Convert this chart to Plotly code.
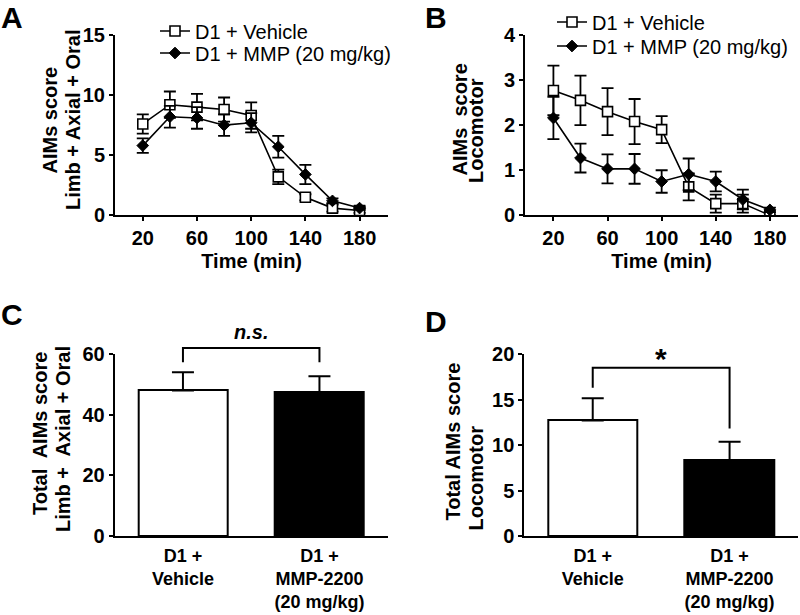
import plotly.graph_objects as go

# ---------------- data ----------------
time_min = [20, 40, 60, 80, 100, 120, 140, 160, 180]
time_ticks = [20, 60, 100, 140, 180]

a_vehicle = [7.6, 9.2, 9.0, 8.8, 8.3, 3.2, 1.5, 0.6, 0.4]
a_vehicle_err = [0.8, 1.1, 1.1, 1.0, 1.1, 0.6, 0.25, 0.3, 0.2]
a_mmp = [5.8, 8.2, 8.1, 7.5, 7.7, 5.7, 3.4, 1.2, 0.6]
a_mmp_err = [0.6, 0.9, 0.9, 0.9, 0.8, 0.9, 0.8, 0.2, 0.15]

b_vehicle = [2.77, 2.55, 2.30, 2.08, 1.90, 0.63, 0.26, 0.26, 0.0]
b_vehicle_err = [0.55, 0.55, 0.52, 0.5, 0.3, 0.3, 0.2, 0.2, 0.0]
b_mmp = [2.16, 1.27, 1.03, 1.03, 0.75, 0.91, 0.75, 0.35, 0.12]
b_mmp_err = [0.47, 0.32, 0.32, 0.33, 0.25, 0.35, 0.22, 0.22, 0.05]

bar_groups = ["D1 +<br>Vehicle", "D1 +<br>MMP-2200<br>(20 mg/kg)"]
c_totals = [48.0, 47.5]
c_err = [6.0, 5.2]
d_totals = [12.7, 8.35]
d_err = [2.45, 2.0]

legend_names = ["D1 + Vehicle", "D1 + MMP (20 mg/kg)"]

FONT = "Liberation Sans, Arial, sans-serif"
W, H = 800, 615

def px_x(a, b):
    return [a / W, b / W]

def px_y(top, bottom):
    return [1 - bottom / H, 1 - top / H]

fig = go.Figure()

def line_traces(yv, ev, ym, em, xa, ya, leg_v, leg_m):
    fig.add_trace(go.Scatter(
        x=time_min, y=yv, name=legend_names[0], mode="lines+markers",
        line=dict(color="black", width=1.6),
        marker=dict(symbol="square", size=10, color="white", line=dict(color="black", width=1.6)),
        error_y=dict(type="data", array=ev, color="black", thickness=1.8, width=6),
        xaxis=xa, yaxis=ya, legend=leg_v))
    fig.add_trace(go.Scatter(
        x=time_min, y=ym, name=legend_names[1], mode="lines+markers",
        line=dict(color="black", width=1.6),
        marker=dict(symbol="diamond", size=9, color="black", line=dict(color="black", width=1)),
        error_y=dict(type="data", array=em, color="black", thickness=1.8, width=6),
        xaxis=xa, yaxis=ya, legend=leg_m))

line_traces(a_vehicle, a_vehicle_err, a_mmp, a_mmp_err, "x", "y", "legend", "legend3")
line_traces(b_vehicle, b_vehicle_err, b_mmp, b_mmp_err, "x2", "y2", "legend2", "legend4")

def bar_trace(vals, errs, xa, ya):
    fig.add_trace(go.Bar(
        x=[0, 1], y=vals, width=0.655,
        marker=dict(color=["white", "black"], line=dict(color="black", width=2)),
        error_y=dict(type="data", array=errs, arrayminus=[0, 0], color="black", thickness=2, width=11),
        showlegend=False, xaxis=xa, yaxis=ya))

bar_trace(c_totals, c_err, "x3", "y3")
bar_trace(d_totals, d_err, "x4", "y4")

tick_font = dict(family=FONT, size=20, color="black", weight="bold")
title_font = dict(family=FONT, size=20, color="black", weight="bold")
cat_font = dict(family=FONT, size=18, color="black", weight="bold")
leg_font = dict(family=FONT, size=20, color="black")

axis_common = dict(showline=True, linecolor="black", linewidth=2, showgrid=False,
                   zeroline=False, ticks="outside", ticklen=4, tickwidth=2,
                   tickcolor="black", tickfont=tick_font, mirror=False, automargin=False)

line_x = dict(axis_common, range=[-0.5, 201.2], tickvals=time_ticks,
              title=dict(text="Time (min)", font=title_font, standoff=6))

bar_dom = px_y(354, 536)

def leg(xpx, ypx):
    return dict(x=xpx / W, y=1 - ypx / H, xanchor="left", yanchor="middle",
                font=leg_font, bgcolor="rgba(0,0,0,0)", itemclick=False,
                itemdoubleclick=False)

fig.update_layout(
    width=W, height=H, paper_bgcolor="white", plot_bgcolor="white",
    margin=dict(l=0, r=0, t=0, b=0, autoexpand=False),
    xaxis=dict(line_x, domain=px_x(115, 388.3), anchor="y"),
    yaxis=dict(axis_common, domain=px_y(35, 215.3), anchor="x", range=[0, 15],
               tickvals=[0, 5, 10, 15]),
    xaxis2=dict(line_x, domain=px_x(525, 798.3), anchor="y2", range=[-1, 201]),
    yaxis2=dict(axis_common, domain=px_y(35, 215.3), anchor="x2", range=[0, 4],
                tickvals=[0, 1, 2, 3, 4]),
    xaxis3=dict(axis_common, domain=px_x(114.7, 387.7), anchor="y3", range=[-0.5, 1.5],
                tickvals=[0, 1], ticktext=bar_groups, ticks="", tickfont=cat_font,
                ticklabelstandoff=2),
    yaxis3=dict(axis_common, domain=bar_dom, anchor="x3", range=[0, 60],
                tickvals=[0, 20, 40, 60]),
    xaxis4=dict(axis_common, domain=px_x(524.3, 798), anchor="y4", range=[-0.5, 1.5],
                tickvals=[0, 1], ticktext=bar_groups, ticks="", tickfont=cat_font,
                ticklabelstandoff=2),
    yaxis4=dict(axis_common, domain=bar_dom, anchor="x4", range=[0, 20],
                tickvals=[0, 5, 10, 15, 20]),
    legend=leg(155, 31),
    legend3=leg(155, 53),
    legend2=leg(552, 22),
    legend4=leg(552, 46),
    bargap=0,
)

# significance brackets (bar chart C bracket goes above the axis range -> paper y)
def c_paper(v):
    return bar_dom[0] + v / 60 * (bar_dom[1] - bar_dom[0])

fig.add_shape(type="path",
              path=f"M 0,{c_paper(57.3)} L 0,{c_paper(62)} L 1,{c_paper(62)} L 1,{c_paper(57.3)}",
              xref="x3", yref="paper", line=dict(color="black", width=2))
fig.add_shape(type="path", path="M 0,16.3 L 0,18.5 L 1,18.5 L 1,11.8",
              xref="x4", yref="y4", line=dict(color="black", width=2))

fig.add_annotation(text="<i>n.s.</i>", x=0.5, xref="x3", y=1 - 332 / H, yref="paper",
                   showarrow=False, font=dict(family=FONT, size=20, weight="bold", color="black"))
fig.add_annotation(text="*", x=0.5, xref="x4", y=1 - 358 / H, yref="paper",
                   showarrow=False, font=dict(family=FONT, size=30, weight="bold", color="black"))

# panel letters
for letter, lx, ly in [("A", 0, 0), ("B", 424, 0), ("C", 0, 297), ("D", 424, 304)]:
    fig.add_annotation(text=letter, x=lx / W, xref="paper", y=1 - ly / H, yref="paper",
                       xanchor="left", yanchor="top", borderpad=0,
                       showarrow=False, font=dict(family=FONT, size=30, weight="bold", color="black"))

# y-axis titles (one line each, rotated)
ytitles = [
    ("AIMs score", 49.5, 120),
    ("Limb + Axial + Oral", 72.5, 120.5),
    ("AIMs  score", 459.5, 120),
    ("Locomotor", 476, 131),
    ("Total  AIMs score", 40, 434),
    ("Limb +  Axial + Oral", 63, 439),
    ("Total AIMs score", 452.5, 442),
    ("Locomotor", 475.5, 478),
]
for txt, tx, ty in ytitles:
    fig.add_annotation(text=txt, x=tx / W, xref="paper", y=1 - ty / H, yref="paper",
                       textangle=-90, xanchor="center", yanchor="middle",
                       showarrow=False, font=title_font)

fig.write_html("out.html", config={"displayModeBar": False},
               post_script="document.body.style.margin='0px';")
